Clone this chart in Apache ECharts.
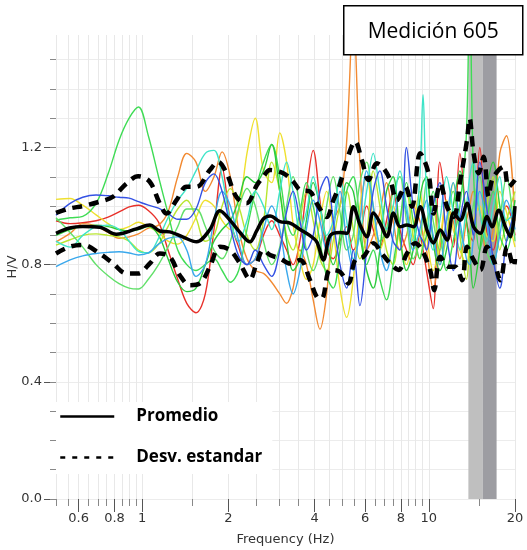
<!DOCTYPE html>
<html>
<head>
<meta charset="utf-8">
<script src="https://cdn.jsdelivr.net/npm/echarts/dist/echarts.min.js"></script>
<style>
html,body{margin:0;padding:0;background:#fff;}
#chart{width:527px;height:550px;}
</style>
</head>
<body>
<div id="chart"></div>
<script>
// ---- Data ----
const freqGrid = [0.5,0.56,0.62,0.69,0.76,0.83,0.9,0.97,1.05,1.14,
  1.23,1.33,1.43,1.54,1.66,1.78,1.9,2.03,2.17,2.32,
  2.48,2.65,2.83,3.02,3.19,3.36,3.55,3.74,3.95,4.17,
  4.4,4.64,4.9,5.17,5.45,5.75,6.07,6.4,6.75,7.12,
  7.51,7.93,8.36,8.82,9.31,9.55,9.82,10.36,10.93,11.53,
  12.17,12.84,13.54,13.9,14.29,15.07,15.9,16.78,17.7,18.67,
  20];

const hvRed = [0.95,0.94,0.943,0.95,0.962,0.98,0.997,1.003,0.985,0.945,
  0.85,0.75,0.668,0.636,0.70,0.92,1.13,0.95,0.86,0.80,
  0.82,0.90,0.95,0.90,0.85,0.80,0.88,1.05,1.19,1.02,
  0.85,0.82,0.88,0.93,0.85,0.90,1.0,0.92,0.86,0.95,
  1.05,0.92,0.85,0.80,0.90,0.85,0.78,0.65,1.15,1.0,
  0.86,1.18,0.95,0.9,0.88,1.2,0.92,0.85,0.95,1.0,
  0.9];
const hvOrange = [0.878,0.907,0.94,0.932,0.91,0.89,0.895,0.905,0.925,0.935,
  0.98,1.10,1.18,1.15,1.05,1.10,1.185,1.10,0.92,0.82,
  0.78,0.77,0.74,0.70,0.668,0.72,0.85,0.80,0.68,0.58,
  0.70,0.95,1.0,1.22,1.65,1.15,0.85,0.90,0.98,1.08,
  0.95,0.85,0.9,1.0,0.95,0.9,0.85,0.72,0.85,1.0,
  0.95,0.82,0.95,1.0,1.05,0.98,0.85,0.92,1.18,1.24,
  0.95];
const hvYellow = [1.023,1.026,1.003,0.97,0.94,0.92,0.93,0.945,0.93,0.91,
  0.88,0.87,0.90,0.96,1.02,1.0,0.95,0.92,0.98,1.18,
  1.30,1.12,1.08,1.25,1.15,0.94,0.82,0.75,0.80,0.95,
  1.05,0.92,0.72,0.62,0.75,1.0,1.1,0.95,0.85,0.92,
  1.0,0.88,0.8,0.92,1.05,0.98,0.9,0.78,0.88,1.02,
  0.92,0.85,0.8,0.88,0.95,1.0,0.9,0.88,1.05,0.98,
  0.86];
const hvYellowGreen = [0.867,0.885,0.90,0.905,0.90,0.895,0.88,0.85,0.84,0.87,
  0.93,0.99,1.02,0.96,0.88,0.90,1.0,1.06,1.0,0.90,
  0.85,0.95,1.15,1.05,0.9,0.85,0.95,1.05,0.95,0.82,
  0.78,0.88,1.0,1.05,0.92,0.82,0.9,1.12,1.0,0.85,
  0.80,0.95,1.05,0.9,0.82,0.88,0.95,1.0,0.8,0.9,
  1.08,0.9,0.75,0.85,0.95,0.9,1.0,1.1,0.85,0.95,
  1.05];
const hvGreen = [0.952,0.96,0.965,1.009,1.11,1.225,1.30,1.338,1.24,1.10,
  0.975,0.85,0.80,0.78,0.80,0.82,0.78,0.74,0.78,0.92,
  1.05,1.15,1.21,1.10,0.95,0.90,0.98,1.08,1.0,0.88,
  0.76,0.72,0.85,1.05,1.1,0.95,0.8,0.85,0.75,0.68,
  0.80,0.95,1.08,0.95,0.82,0.86,0.9,1.05,0.92,0.78,
  0.88,1.0,1.25,1.8,1.15,0.85,0.95,1.05,0.9,0.85,
  1.0];
const hvMint = [0.96,0.91,0.86,0.80,0.762,0.735,0.72,0.717,0.75,0.80,
  0.86,0.93,0.99,0.99,0.93,0.85,0.82,0.88,0.99,1.06,
  1.0,0.88,0.80,0.86,1.0,1.1,1.0,0.85,0.78,0.85,
  1.0,1.1,0.98,0.85,0.9,1.08,1.15,1.0,0.88,0.92,
  1.05,1.1,0.95,0.82,0.88,0.98,1.08,0.95,0.85,0.95,
  1.05,0.92,0.85,0.9,1.0,1.1,0.85,0.80,0.95,1.1,
  0.88];
const hvGreen2 = [0.90,0.92,0.93,0.935,0.93,0.92,0.915,0.92,0.93,0.90,
  0.82,0.74,0.708,0.72,0.80,0.88,0.92,0.95,1.02,1.10,
  1.08,1.12,1.21,1.05,0.88,0.78,0.82,0.95,1.08,1.0,
  0.88,0.80,0.90,1.08,1.05,0.9,0.78,0.72,0.85,1.05,
  1.1,0.9,0.78,0.85,1.02,1.08,1.1,0.88,0.78,0.85,
  1.0,1.12,0.95,0.85,0.72,0.85,1.05,1.15,1.0,0.88,
  1.02];
const hvAqua = [0.88,0.86,0.90,0.93,0.935,0.92,0.88,0.845,0.84,0.89,
  0.96,1.02,1.06,1.12,1.18,1.19,1.10,0.95,0.88,0.95,
  1.05,1.0,0.92,1.05,1.15,1.05,0.92,0.98,1.1,1.0,
  0.9,0.95,1.1,0.95,0.82,0.9,1.05,1.18,1.05,0.92,
  1.0,1.12,1.0,0.88,1.1,1.38,1.05,0.85,0.95,1.1,
  0.98,0.85,1.0,1.1,1.15,0.98,0.88,1.0,1.1,0.95,
  0.98];
const hvSky = [0.793,0.816,0.83,0.838,0.842,0.844,0.84,0.833,0.84,0.87,
  0.89,0.895,0.85,0.76,0.80,0.95,1.05,1.0,0.88,0.80,
  0.82,0.92,1.0,0.92,0.78,0.70,0.78,0.92,1.02,0.95,
  0.85,0.92,1.05,0.88,0.78,0.95,1.12,1.0,0.85,0.78,
  0.9,1.05,0.98,0.85,0.92,0.98,1.02,0.9,0.8,0.95,
  1.08,0.95,0.82,0.8,0.88,1.05,0.95,0.8,0.9,1.02,
  0.92];
const hvBlue = [0.969,1.009,1.03,1.038,1.035,1.03,1.027,1.015,1.003,0.993,
  0.975,0.955,0.955,0.99,1.08,1.11,1.05,0.93,0.83,0.80,
  0.85,0.80,0.76,0.85,0.98,1.05,0.95,0.85,0.90,1.05,
  1.10,0.95,0.80,0.72,0.85,0.66,0.85,1.05,1.12,1.0,
  0.88,0.85,1.2,1.0,0.9,0.88,0.85,1.0,1.08,0.9,
  0.78,0.95,1.05,1.0,0.9,1.15,1.0,0.82,0.72,0.88,
  0.98];

const meanFreq = [0.5,0.558,0.621,0.71,0.812,0.954,1.062,1.151,1.248,1.389,1.547,1.722,1.866,2.023,2.193,2.376,2.508,2.645,2.792,3.026,3.28,3.554,3.852,4.066,4.288,4.525,4.905,5.176,5.458,5.761,6.08,6.412,6.767,7.142,7.532,7.949,8.39,8.85,9.339,9.856,10.39,10.97,11.58,12.21,12.89,13.6,14.34,15.14,15.97,16.63,17.54,18.51,19.27,20];
const meanHV = [0.907,0.925,0.93,0.928,0.904,0.922,0.935,0.915,0.912,0.894,0.878,0.92,0.984,0.952,0.91,0.878,0.915,0.956,0.966,0.947,0.942,0.92,0.899,0.878,0.816,0.899,0.91,0.907,0.998,0.935,0.895,0.976,0.942,0.895,0.976,0.929,0.935,0.929,0.998,0.918,0.874,0.918,0.884,0.976,0.952,1.01,0.929,0.907,0.964,0.929,0.986,0.929,0.895,1.0];

const upperFreq = [0.5,0.558,0.621,0.71,0.791,0.881,0.967,1.062,1.151,1.215,1.317,1.427,1.547,1.722,1.841,1.97,2.135,2.314,2.508,2.645,2.792,3.108,3.368,3.554,3.852,4.066,4.406,4.647,4.905,5.176,5.534,5.84,6.16,6.59,6.95,7.335,7.741,8.276,8.736,9.339,9.98,10.39,10.97,11.58,12.21,12.89,13.6,13.89,14.34,14.94,15.54,16.18,16.63,17.54,18.26,19.01,20];
const upperHV = [0.977,0.992,1.0,1.015,1.032,1.077,1.102,1.083,1.009,0.975,1.02,1.066,1.066,1.123,1.151,1.112,1.03,1.01,1.07,1.1,1.123,1.112,1.083,1.055,1.049,1.009,0.963,1.02,1.077,1.157,1.22,1.157,1.089,1.146,1.129,1.089,1.02,1.066,0.998,1.18,1.112,0.975,1.077,0.998,0.963,1.089,1.225,1.299,1.18,1.112,1.168,1.032,1.089,1.123,1.134,1.066,1.089];

const lowerFreq = [0.5,0.558,0.621,0.71,0.791,0.881,0.967,1.062,1.151,1.248,1.352,1.466,1.589,1.722,1.866,2.023,2.193,2.376,2.508,2.645,2.792,3.026,3.28,3.554,3.852,4.066,4.233,4.525,4.905,5.243,5.534,5.916,6.412,6.861,7.335,7.842,8.39,8.971,9.467,10.12,10.45,10.97,11.73,12.38,13.07,13.6,14.34,15.14,15.97,16.85,17.78,18.77,19.8,20];
const lowerHV = [0.838,0.861,0.867,0.838,0.804,0.77,0.77,0.804,0.838,0.827,0.764,0.73,0.736,0.793,0.861,0.85,0.804,0.75,0.804,0.85,0.833,0.821,0.804,0.816,0.747,0.69,0.685,0.782,0.775,0.736,0.816,0.827,0.873,0.838,0.804,0.782,0.838,0.873,0.85,0.78,0.713,0.827,0.793,0.793,0.747,0.861,0.816,0.782,0.861,0.816,0.747,0.861,0.793,0.82];

const bandLight = [13.75, 15.45];
const bandDark = [15.45, 17.25];

const xMajor = [0.6,0.8,1,2,4,6,8,10,20];
const xMinor = [0.5,0.55,0.6,0.65,0.7,0.75,0.8,0.85,0.9,0.95,1,1.5,2,2.5,3,3.5,4,4.5,5,5.5,6,6.5,7,7.5,8,8.5,9,9.5,10,15,20];
const yMajor = [0, 0.4, 0.8, 1.2];
const yMinor = [0,0.1,0.2,0.3,0.4,0.5,0.6,0.7,0.8,0.9,1.0,1.1,1.2,1.3,1.4,1.5];

const titleText = 'Medición 605';
const meanName = 'Promedio';
const stdName = 'Desv. estandar';

// ---- Chart ----
const chart = echarts.init(document.getElementById('chart'));
const colored = [
  [hvRed, '#e8312b'],
  [hvOrange, '#f28a32'],
  [hvYellow, '#efe02e'],
  [hvYellowGreen, '#b9e630'],
  [hvGreen, '#3fdc55'],
  [hvMint, '#62e06a'],
  [hvGreen2, '#2ccb3c'],
  [hvAqua, '#3ee4c8'],
  [hvSky, '#3aa8ec'],
  [hvBlue, '#3452e4']
];
const pairs = (fs, vs) => fs.map((f, i) => [f, vs[i]]);

const series = [];
series.push({
  type: 'line', name: 'f0', data: [], z: 1, silent: true,
  markArea: {
    silent: true, z: 1,
    data: [
      [{ xAxis: bandLight[0], itemStyle: { color: '#bfbfbf', opacity: 1 } }, { xAxis: bandLight[1] }],
      [{ xAxis: bandDark[0], itemStyle: { color: '#9d9da2', opacity: 1 } }, { xAxis: bandDark[1] }]
    ]
  }
});
colored.forEach(([vals, col], k) => {
  series.push({
    type: 'line', name: 'c' + k, data: pairs(freqGrid, vals),
    smooth: 0.35, symbol: 'none', silent: true, z: 2,
    lineStyle: { color: col, width: 1.4 }
  });
});
series.push({
  type: 'line', name: stdName, data: pairs(upperFreq, upperHV),
  smooth: 0.35, symbol: 'none', silent: true, z: 3,
  itemStyle: { color: '#000' },
  lineStyle: { color: '#000', width: 4.5, type: [10, 7] }
});
series.push({
  type: 'line', name: stdName, data: pairs(lowerFreq, lowerHV),
  smooth: 0.35, symbol: 'none', silent: true, z: 3,
  itemStyle: { color: '#000' },
  lineStyle: { color: '#000', width: 4.5, type: [10, 7] }
});
series.push({
  type: 'line', name: meanName, data: pairs(meanFreq, meanHV),
  smooth: 0.35, symbol: 'none', silent: true, z: 4,
  itemStyle: { color: '#000' },
  lineStyle: { color: '#000', width: 3.5 }
});

const tickFont = { color: '#333', fontSize: 13, fontFamily: 'DejaVu Sans' };

chart.setOption({
  animation: false,
  backgroundColor: '#fff',
  grid: { left: 56, right: 12, top: 35, bottom: 51, containLabel: false, outerBoundsMode: 'none' },
  xAxis: [
    {
      type: 'log', logBase: 10, min: 0.5, max: 20, position: 'bottom',
      axisLine: { show: false },
      axisTick: { show: true, length: 7, customValues: xMinor, lineStyle: { color: '#888' } },
      axisLabel: { show: false },
      splitLine: { show: true, lineStyle: { color: '#e8e8e8', width: 1 } },
      minorTick: { show: false }
    },
    {
      type: 'log', logBase: 10, min: 0.5, max: 20, position: 'bottom',
      axisLine: { show: false },
      axisTick: { show: true, length: 13, customValues: xMajor, lineStyle: { color: '#555' } },
      axisLabel: Object.assign({ customValues: xMajor, margin: 13,
        formatter: v => String(Math.round(v * 100) / 100) }, tickFont),
      splitLine: { show: false },
      name: 'Frequency (Hz)', nameLocation: 'middle', nameGap: 34, nameMoveOverlap: false,
      nameTextStyle: tickFont
    }
  ],
  yAxis: [
    {
      type: 'value', min: 0, max: 1.584, position: 'left',
      axisLine: { show: false },
      axisTick: { show: true, length: 12, customValues: yMajor, lineStyle: { color: '#555' } },
      axisLabel: Object.assign({ customValues: yMajor, margin: 14,
        formatter: v => Number(v).toFixed(1) }, tickFont),
      splitLine: { show: false },
      name: 'H/V', nameLocation: 'middle', nameGap: 37, nameRotate: 90, nameMoveOverlap: false,
      nameTextStyle: tickFont
    },
    {
      type: 'value', min: 0, max: 1.584, position: 'left',
      axisLine: { show: false },
      axisTick: { show: true, length: 6, customValues: yMinor, lineStyle: { color: '#888' } },
      axisLabel: { show: false },
      splitLine: { show: true, lineStyle: { color: '#ececec', width: 1 } }
    }
  ],
  legend: {
    orient: 'vertical', left: 56, top: 402,
    padding: [6, 10, 8, 3], backgroundColor: '#fff',
    itemWidth: 54, itemHeight: 17, itemGap: 24,
    selectedMode: false, z: 10,
    itemStyle: { color: 'rgba(0,0,0,0)', borderWidth: 0, opacity: 0 },
    data: [
      { name: meanName, lineStyle: { width: 2.5, type: 'solid' } },
      { name: stdName, lineStyle: { width: 2.5, type: [5, 7] } }
    ],
    textStyle: { fontFamily: 'Open Sans', fontWeight: 'bold', fontSize: 17, color: '#000', padding: [0, 0, 0, 17] }
  },
  graphic: [
    {
      type: 'group', left: 343, top: 5, z: 100,
      children: [
        { type: 'rect', z: 100, shape: { x: 0, y: 0, width: 179, height: 49 },
          style: { fill: '#fff', stroke: '#000', lineWidth: 1.5 } },
        { type: 'text', z: 101, style: { text: titleText, x: 89.5, y: 26, align: 'center', verticalAlign: 'middle',
          font: '21px "Open Sans"', fill: '#000' } }
      ]
    }
  ],
  series: series
});
</script>
</body>
</html>
